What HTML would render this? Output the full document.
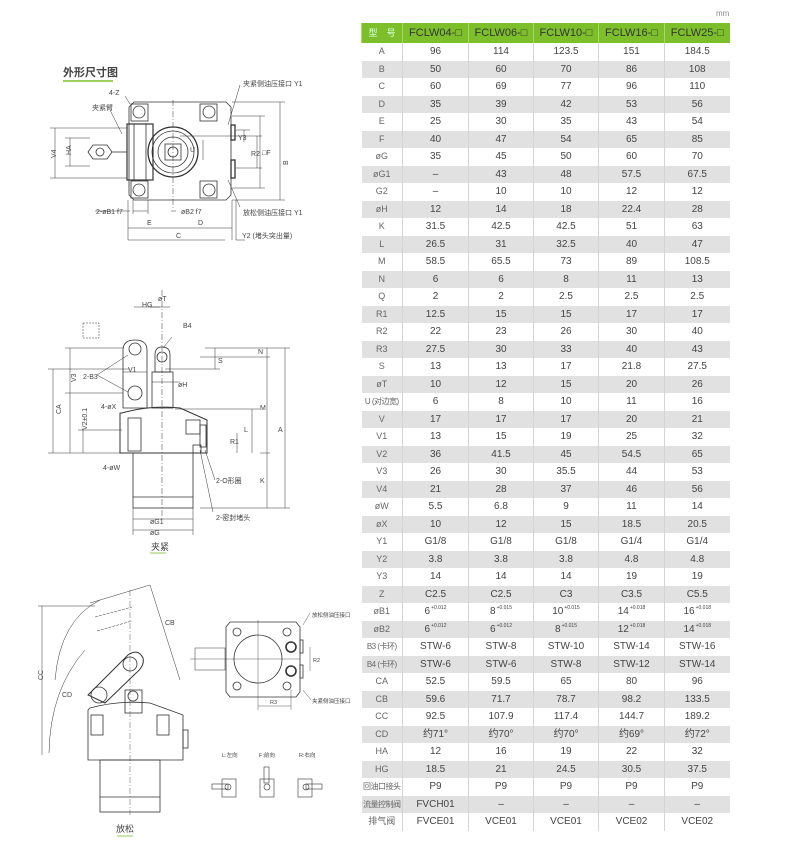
<!DOCTYPE html>
<html><head><meta charset="utf-8">
<style>
body{margin:0;width:801px;height:859px;background:#fff;position:relative;overflow:hidden;font-family:"Liberation Sans Narrow","Liberation Sans","Noto Sans CJK SC",sans-serif;}
#tbl{position:absolute;left:361px;top:23px;width:368px;border-collapse:collapse;table-layout:fixed;}
#tbl td{height:17.5px;max-height:17.5px;padding:0;text-align:center;font-size:10px;color:#444;border-left:1px solid #d4d4d4;white-space:nowrap;line-height:17px;overflow:hidden;}
#tbl td:first-child{border-left:none;color:#666;font-size:9px;}
#tbl td.s{font-size:8px;letter-spacing:-0.5px}
#tbl tr.g td{background:#e1e1e1;}
#tbl tr.h td{height:20px;background:#7dbf2b;color:#333;font-size:11px;border-left:1px solid #a8d86a;}
#tbl tr.h td:first-child{color:#dfe;font-size:9px}
sup{font-size:5px;vertical-align:top;line-height:0;position:relative;top:5px;margin-left:1px}
.mm{position:absolute;left:716px;top:9px;font-size:8px;color:#888}
svg{position:absolute;left:0;top:0}
svg text{font-family:"Liberation Sans","Noto Sans CJK SC",sans-serif;fill:#444}
</style></head><body>
<div class="mm">mm</div>
<table id="tbl">
<colgroup><col style="width:41px"><col style="width:66px"><col style="width:65px"><col style="width:65px"><col style="width:66px"><col style="width:65px"></colgroup>
<tr class="h"><td>型　号</td><td>FCLW04-□</td><td>FCLW06-□</td><td>FCLW10-□</td><td>FCLW16-□</td><td>FCLW25-□</td></tr>
<tr><td>A</td><td>96</td><td>114</td><td>123.5</td><td>151</td><td>184.5</td></tr>
<tr class="g"><td>B</td><td>50</td><td>60</td><td>70</td><td>86</td><td>108</td></tr>
<tr><td>C</td><td>60</td><td>69</td><td>77</td><td>96</td><td>110</td></tr>
<tr class="g"><td>D</td><td>35</td><td>39</td><td>42</td><td>53</td><td>56</td></tr>
<tr><td>E</td><td>25</td><td>30</td><td>35</td><td>43</td><td>54</td></tr>
<tr class="g"><td>F</td><td>40</td><td>47</td><td>54</td><td>65</td><td>85</td></tr>
<tr><td>øG</td><td>35</td><td>45</td><td>50</td><td>60</td><td>70</td></tr>
<tr class="g"><td>øG1</td><td>–</td><td>43</td><td>48</td><td>57.5</td><td>67.5</td></tr>
<tr><td>G2</td><td>–</td><td>10</td><td>10</td><td>12</td><td>12</td></tr>
<tr class="g"><td>øH</td><td>12</td><td>14</td><td>18</td><td>22.4</td><td>28</td></tr>
<tr><td>K</td><td>31.5</td><td>42.5</td><td>42.5</td><td>51</td><td>63</td></tr>
<tr class="g"><td>L</td><td>26.5</td><td>31</td><td>32.5</td><td>40</td><td>47</td></tr>
<tr><td>M</td><td>58.5</td><td>65.5</td><td>73</td><td>89</td><td>108.5</td></tr>
<tr class="g"><td>N</td><td>6</td><td>6</td><td>8</td><td>11</td><td>13</td></tr>
<tr><td>Q</td><td>2</td><td>2</td><td>2.5</td><td>2.5</td><td>2.5</td></tr>
<tr class="g"><td>R1</td><td>12.5</td><td>15</td><td>15</td><td>17</td><td>17</td></tr>
<tr><td>R2</td><td>22</td><td>23</td><td>26</td><td>30</td><td>40</td></tr>
<tr class="g"><td>R3</td><td>27.5</td><td>30</td><td>33</td><td>40</td><td>43</td></tr>
<tr><td>S</td><td>13</td><td>13</td><td>17</td><td>21.8</td><td>27.5</td></tr>
<tr class="g"><td>øT</td><td>10</td><td>12</td><td>15</td><td>20</td><td>26</td></tr>
<tr><td class="s">U (对边宽)</td><td>6</td><td>8</td><td>10</td><td>11</td><td>16</td></tr>
<tr class="g"><td>V</td><td>17</td><td>17</td><td>17</td><td>20</td><td>21</td></tr>
<tr><td>V1</td><td>13</td><td>15</td><td>19</td><td>25</td><td>32</td></tr>
<tr class="g"><td>V2</td><td>36</td><td>41.5</td><td>45</td><td>54.5</td><td>65</td></tr>
<tr><td>V3</td><td>26</td><td>30</td><td>35.5</td><td>44</td><td>53</td></tr>
<tr class="g"><td>V4</td><td>21</td><td>28</td><td>37</td><td>46</td><td>56</td></tr>
<tr><td>øW</td><td>5.5</td><td>6.8</td><td>9</td><td>11</td><td>14</td></tr>
<tr class="g"><td>øX</td><td>10</td><td>12</td><td>15</td><td>18.5</td><td>20.5</td></tr>
<tr><td>Y1</td><td>G1/8</td><td>G1/8</td><td>G1/8</td><td>G1/4</td><td>G1/4</td></tr>
<tr class="g"><td>Y2</td><td>3.8</td><td>3.8</td><td>3.8</td><td>4.8</td><td>4.8</td></tr>
<tr><td>Y3</td><td>14</td><td>14</td><td>14</td><td>19</td><td>19</td></tr>
<tr class="g"><td>Z</td><td>C2.5</td><td>C2.5</td><td>C3</td><td>C3.5</td><td>C5.5</td></tr>
<tr><td>øB1</td><td>6<sup>+0.012</sup></td><td>8<sup>+0.015</sup></td><td>10<sup>+0.015</sup></td><td>14<sup>+0.018</sup></td><td>16<sup>+0.018</sup></td></tr>
<tr class="g"><td>øB2</td><td>6<sup>+0.012</sup></td><td>6<sup>+0.012</sup></td><td>8<sup>+0.015</sup></td><td>12<sup>+0.018</sup></td><td>14<sup>+0.018</sup></td></tr>
<tr><td class="s">B3 (卡环)</td><td>STW-6</td><td>STW-8</td><td>STW-10</td><td>STW-14</td><td>STW-16</td></tr>
<tr class="g"><td class="s">B4 (卡环)</td><td>STW-6</td><td>STW-6</td><td>STW-8</td><td>STW-12</td><td>STW-14</td></tr>
<tr><td>CA</td><td>52.5</td><td>59.5</td><td>65</td><td>80</td><td>96</td></tr>
<tr class="g"><td>CB</td><td>59.6</td><td>71.7</td><td>78.7</td><td>98.2</td><td>133.5</td></tr>
<tr><td>CC</td><td>92.5</td><td>107.9</td><td>117.4</td><td>144.7</td><td>189.2</td></tr>
<tr class="g"><td>CD</td><td>约71°</td><td>约70°</td><td>约70°</td><td>约69°</td><td>约72°</td></tr>
<tr><td>HA</td><td>12</td><td>16</td><td>19</td><td>22</td><td>32</td></tr>
<tr class="g"><td>HG</td><td>18.5</td><td>21</td><td>24.5</td><td>30.5</td><td>37.5</td></tr>
<tr><td class="s">回油口接头</td><td>P9</td><td>P9</td><td>P9</td><td>P9</td><td>P9</td></tr>
<tr class="g"><td class="s">流量控制阀</td><td>FVCH01</td><td>–</td><td>–</td><td>–</td><td>–</td></tr>
<tr><td>排气阀</td><td>FVCE01</td><td>VCE01</td><td>VCE01</td><td>VCE02</td><td>VCE02</td></tr>
</table>

<svg width="360" height="859" viewBox="0 0 360 859" fill="none" stroke="#333" stroke-width="0.8">
<text x="63" y="76" font-size="11" stroke="none" font-weight="bold">外形尺寸图</text>
<line x1="63" y1="81" x2="113" y2="81" stroke="#7dbf2b" stroke-width="1.5"/>
<path d="M134 102 H226 L231 107 V195 L226 200 H134 L129 195 V107 Z"/>
<rect x="131" y="104" width="17" height="17"/><rect x="200" y="104" width="17" height="17"/>
<rect x="131" y="181" width="17" height="17"/><rect x="200" y="181" width="17" height="17"/>
<circle cx="139" cy="112" r="6"/><circle cx="209" cy="112" r="6"/>
<circle cx="139" cy="190" r="6"/><circle cx="209" cy="190" r="6"/>
<rect x="127" y="124" width="26" height="56" stroke-width="1.2"/>
<line x1="134" y1="124" x2="134" y2="180"/><line x1="146" y1="124" x2="146" y2="180"/>
<circle cx="173" cy="152" r="25" stroke-width="1.3"/><circle cx="173" cy="152" r="21"/><circle cx="173" cy="152" r="15"/>
<rect x="165" y="144" width="16" height="16"/><circle cx="173" cy="152" r="5"/>
<polygon points="93,145 107,145 112,152 107,159 93,159 88,152"/><circle cx="100" cy="152" r="4"/>
<line x1="112" y1="152" x2="127" y2="152"/>
<rect x="231" y="125" width="4" height="15" stroke-width="1.3"/><rect x="231" y="160" width="4" height="18" stroke-width="1.3"/>
<line x1="173" y1="100" x2="173" y2="210" stroke-dasharray="6 2 1 2" stroke-width="0.5"/>
<g stroke-width="0.5">
<line x1="55" y1="128" x2="55" y2="178"/><line x1="50" y1="128" x2="127" y2="128"/><line x1="50" y1="178" x2="127" y2="178"/>
<line x1="70" y1="138" x2="70" y2="166"/><line x1="65" y1="138" x2="90" y2="138"/><line x1="65" y1="166" x2="90" y2="166"/>
<line x1="280" y1="102" x2="280" y2="200"/><line x1="232" y1="102" x2="285" y2="102"/><line x1="232" y1="200" x2="285" y2="200"/>
<line x1="260" y1="116" x2="260" y2="188"/><line x1="232" y1="116" x2="265" y2="116"/><line x1="232" y1="188" x2="265" y2="188"/>
<line x1="244" y1="130" x2="244" y2="142"/><line x1="236" y1="130" x2="250" y2="130"/>
<line x1="257" y1="136" x2="257" y2="168"/><line x1="180" y1="136" x2="262" y2="136"/><line x1="236" y1="168" x2="262" y2="168"/>
<line x1="203" y1="140" x2="203" y2="160"/>
<line x1="128" y1="228" x2="232" y2="228"/><line x1="128" y1="200" x2="128" y2="240"/><line x1="232" y1="200" x2="232" y2="240"/><line x1="236" y1="200" x2="236" y2="240"/>
<line x1="128" y1="240" x2="225" y2="240"/><line x1="236" y1="240" x2="245" y2="240"/>
<line x1="133" y1="211" x2="148" y2="211"/><line x1="95" y1="211" x2="130" y2="211"/><line x1="171" y1="211" x2="176" y2="211"/>
<line x1="133" y1="200" x2="133" y2="214"/><line x1="148" y1="200" x2="148" y2="214"/>
<line x1="240" y1="85" x2="228" y2="125"/><line x1="228" y1="180" x2="240" y2="207"/>
<line x1="125" y1="96" x2="130" y2="104"/><line x1="110" y1="110" x2="122" y2="134"/>
</g>
<g stroke="none" font-size="7">
<text x="109" y="95">4-Z</text><text x="92" y="110">夹紧臂</text>
<text x="243" y="86">夹紧侧油压接口 Y1</text><text x="243" y="215">放松侧油压接口 Y1</text>
<text x="48" y="160" transform="rotate(-90 51 155)">V4</text><text x="64" y="156" transform="rotate(-90 67 152)">HA</text>
<text x="270" y="157" transform="rotate(-90 283 152)">B</text><text x="262" y="155">□F</text><text x="251" y="156">R2</text><text x="238" y="140">Y3</text>
<text x="190" y="152">U</text>
<text x="96" y="214">2-øB1 f7</text><text x="181" y="214">øB2 f7</text>
<text x="147" y="225">E</text><text x="198" y="225">D</text><text x="176" y="238">C</text>
<text x="242" y="238">Y2 (堵头突出量)</text>
</g>

<g>
<path d="M123 350 Q123 340 135 340 Q147 340 147 350 V408 H123 Z"/>
<circle cx="135" cy="349" r="6"/><circle cx="135" cy="393" r="7"/>
<path d="M155 355 Q155 347 162 347 Q170 347 170 355 V372 H155 Z"/><circle cx="162" cy="357" r="5"/>
<rect x="152" y="372" width="21" height="36"/>
<path d="M122 413 Q150 405 180 408 L207 420 V453 H120 V413 Z" stroke-width="1"/>
<rect x="133" y="453" width="60" height="55"/><line x1="133" y1="497" x2="193" y2="497"/>
<rect x="128" y="418" width="13" height="33"/>
<rect x="186" y="420" width="14" height="14"/><rect x="200" y="425" width="6" height="22"/>
<rect x="193" y="445" width="8" height="8"/>
<rect x="83" y="323" width="16" height="15" stroke-dasharray="2 1" stroke-width="0.5"/>
<line x1="162" y1="290" x2="162" y2="520" stroke-dasharray="6 2 1 2" stroke-width="0.5"/>
</g>
<g stroke-width="0.5">
<line x1="285" y1="348" x2="285" y2="508"/><line x1="205" y1="348" x2="290" y2="348"/><line x1="200" y1="508" x2="290" y2="508"/>
<line x1="267" y1="348" x2="267" y2="508"/><line x1="260" y1="453" x2="270" y2="453"/><line x1="200" y1="357" x2="270" y2="357"/>
<line x1="215" y1="348" x2="215" y2="369"/><line x1="165" y1="369" x2="220" y2="369"/>
<line x1="252" y1="409" x2="252" y2="453"/><line x1="175" y1="409" x2="260" y2="409"/>
<line x1="237" y1="433" x2="237" y2="453"/>
<line x1="53" y1="369" x2="53" y2="453"/><line x1="48" y1="369" x2="130" y2="369"/><line x1="48" y1="453" x2="120" y2="453"/>
<line x1="70" y1="348" x2="70" y2="453"/><line x1="65" y1="348" x2="123" y2="348"/><line x1="65" y1="393" x2="123" y2="393"/>
<line x1="83" y1="430" x2="83" y2="453"/><line x1="78" y1="430" x2="122" y2="430"/>
<line x1="123" y1="372" x2="147" y2="372"/><line x1="150" y1="307" x2="170" y2="307"/><line x1="134" y1="307" x2="160" y2="307"/>
<line x1="133" y1="519" x2="193" y2="519"/><line x1="133" y1="530" x2="193" y2="530"/>
<line x1="133" y1="508" x2="133" y2="535"/><line x1="193" y1="508" x2="193" y2="535"/>
<line x1="152" y1="382" x2="180" y2="382"/>
<line x1="97" y1="375" x2="128" y2="355"/><line x1="97" y1="375" x2="128" y2="392"/>
<line x1="172" y1="337" x2="163" y2="348"/>
<line x1="205" y1="450" x2="215" y2="480"/><line x1="200" y1="450" x2="213" y2="512"/>
</g>
<g stroke="none" font-size="7">
<text x="158" y="301">øT</text><text x="142" y="307">HG</text><text x="183" y="328">B4</text>
<text x="128" y="372">V1</text><text x="83" y="379">2-B3</text>
<text x="178" y="387">øH</text><text x="101" y="409">4-øX</text><text x="103" y="470">4-øW</text>
<text x="216" y="483">2-O形圈</text><text x="216" y="520">2-密封堵头</text>
<text x="150" y="524">øG1</text><text x="150" y="535">øG</text>
<text x="58" y="417" transform="rotate(-90 58 414)">CA</text><text x="73" y="385" transform="rotate(-90 73 382)">V3</text>
<text x="85" y="432" transform="rotate(-90 85 430)">V2±0.1</text>
<text x="260" y="410">M</text><text x="278" y="432">A</text><text x="260" y="483">K</text><text x="230" y="444">R1</text><text x="244" y="432">L</text>
<text x="218" y="363">S</text><text x="258" y="354">N</text>
<text x="151" y="550" font-size="9">夹紧</text>
</g>
<line x1="150" y1="553" x2="166" y2="553" stroke="#7dbf2b"/>

<g>
<path d="M90 708 Q120 700 150 703 L183 715 V760 H88 V710 Z"/>
<rect x="100" y="760" width="60" height="52"/><line x1="100" y1="797" x2="160" y2="797"/>
<rect x="91" y="715" width="12" height="20"/><rect x="157" y="715" width="12" height="20"/><rect x="183" y="730" width="5" height="18"/>
<path d="M88 695 L128 655 Q138 648 143 658 Q145 666 135 674 L105 703 Z" stroke-width="1"/>
<circle cx="130" cy="664" r="7"/><circle cx="99" cy="695" r="8"/>
<rect x="125" y="690" width="17" height="23"/><circle cx="133" cy="696" r="5"/>
<path d="M55 680 Q60 620 100 600" stroke-width="0.5"/>
<path d="M49 753 Q50 690 85 650" stroke-width="0.5"/>
<line x1="42" y1="606" x2="42" y2="755" stroke-width="0.5"/><line x1="38" y1="606" x2="95" y2="606" stroke-width="0.5"/>
<line x1="90" y1="603" x2="150" y2="585" stroke-width="0.5"/><line x1="150" y1="585" x2="180" y2="680" stroke-width="0.5"/>
<line x1="95" y1="617" x2="132" y2="607" stroke-width="0.5" stroke-dasharray="3 1"/><line x1="97" y1="631" x2="132" y2="621" stroke-width="0.5" stroke-dasharray="3 1"/>
<line x1="130" y1="590" x2="130" y2="815" stroke-dasharray="6 2 1 2" stroke-width="0.4"/>
<path d="M230 622 H296 L300 627 V692 L296 697 H230 L226 692 V627 Z"/>
<circle cx="258" cy="659" r="24"/>
<circle cx="237" cy="632" r="4"/><circle cx="287" cy="632" r="4"/><circle cx="237" cy="686" r="4"/><circle cx="287" cy="686" r="4"/>
<circle cx="291" cy="647" r="5" stroke-width="1.6"/><circle cx="291" cy="671" r="5" stroke-width="1.6"/>
<rect x="300" y="640" width="3" height="13"/><rect x="300" y="665" width="3" height="13"/>
<rect x="195" y="648" width="30" height="22" stroke-width="0.5"/>
<line x1="190" y1="659" x2="300" y2="659" stroke-width="0.4"/><line x1="258" y1="620" x2="258" y2="710" stroke-width="0.4"/>
<line x1="291" y1="690" x2="291" y2="710" stroke-width="0.4"/><line x1="258" y1="706" x2="291" y2="706" stroke-width="0.4"/>
<line x1="310" y1="647" x2="310" y2="671" stroke-width="0.4"/>
<line x1="303" y1="625" x2="310" y2="613" stroke-width="0.4"/><line x1="303" y1="690" x2="311" y2="700" stroke-width="0.4"/>
<g stroke-width="0.6">
<rect x="222" y="779" width="14" height="18"/><rect x="212" y="784" width="16" height="5"/><circle cx="228" cy="787" r="3"/>
<rect x="260" y="779" width="14" height="18"/><rect x="264" y="767" width="5" height="16"/><circle cx="267" cy="787" r="3"/>
<rect x="298" y="779" width="14" height="18"/><rect x="306" y="784" width="16" height="5"/><circle cx="306" cy="787" r="3"/>
</g>
</g>
<g stroke="none" font-size="5.5">
<text x="312" y="617">放松侧油压接口</text><text x="312" y="703">夹紧侧油压接口</text>
<text x="313" y="662">R2</text><text x="270" y="704">R3</text>
<text x="222" y="757">L:左向</text><text x="259" y="757">F:前向</text><text x="299" y="757">R:右向</text>
<text x="38" y="685" transform="rotate(-90 38 680)" font-size="7">CC</text>
<text x="62" y="697" font-size="7">CD</text><text x="165" y="625" font-size="7">CB</text>
<text x="116" y="832" font-size="9">放松</text>
</g>
<line x1="117" y1="836" x2="133" y2="836" stroke="#7dbf2b"/>
</svg>
</body></html>
